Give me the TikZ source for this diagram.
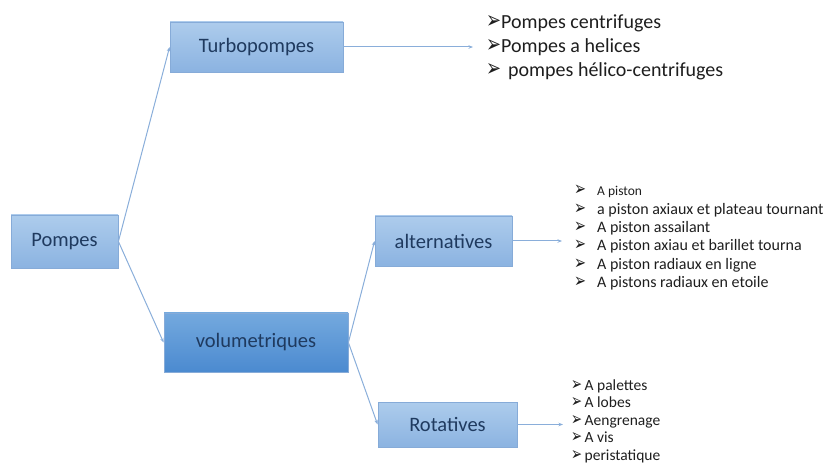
\documentclass[tikz,border=0pt]{standalone}
\usepackage{fontspec}
\usepackage{graphicx}
\setmainfont{Carlito}
\newfontfamily\dvfont{DejaVu Sans}
\usetikzlibrary{arrows.meta}
\definecolor{boxtop}{HTML}{ADCCEC}
\definecolor{boxbot}{HTML}{8BB3E1}
\definecolor{boxline}{HTML}{86ABD8}
\definecolor{voltop}{HTML}{74A9DE}
\definecolor{volbot}{HTML}{4B8AD0}
\definecolor{boxtext}{HTML}{1F3A5F}
\definecolor{linkcol}{HTML}{8AAEDA}
\definecolor{listtext}{HTML}{1E1E1E}
\newcommand{\bulA}{\resizebox{15pt}{13pt}{\dvfont ➢}}
\newcommand{\bulB}{\resizebox{12pt}{10.5pt}{\dvfont ➢}}
\newcommand{\bulC}{\resizebox{11pt}{10pt}{\dvfont ➢}}
\tikzset{
  catbox/.style={draw=boxline, line width=0.8pt, top color=boxtop, bottom color=boxbot,
    text=boxtext, font=\fontsize{20.5}{24}\selectfont, inner sep=0pt},
  volbox/.style={catbox, top color=voltop, bottom color=volbot},
  link/.style={draw=linkcol, line width=1pt, -{Stealth[length=4.5pt,width=3.5pt]}},
  itemA/.style={anchor=base west, inner sep=0pt, text=listtext, font=\fontsize{20}{23}\selectfont},
  itemB/.style={anchor=base west, inner sep=0pt, text=listtext, font=\fontsize{16}{18}\selectfont},
  itemC/.style={anchor=base west, inner sep=0pt, text=listtext, font=\fontsize{15.5}{18}\selectfont},
}
\begin{document}
\begin{tikzpicture}[x=1pt,y=-1pt]
\useasboundingbox (0,0) rectangle (830,470);
% boxes
\node[catbox, minimum width=107pt, minimum height=53pt] (pompes) at (64.5,241.5) {Pompes};
\node[catbox, minimum width=173pt, minimum height=50pt] (turbo) at (256.5,47) {Turbopompes};
\node[volbox, minimum width=184pt, minimum height=59pt] (vol) at (256,342.5) {volumetriques};
\node[catbox, minimum width=137pt, minimum height=50pt] (alt) at (443.5,241) {alternatives};
\node[catbox, minimum width=139pt, minimum height=45pt] (rot) at (447.5,424.5) {Rotatives};
% list 1
\node[itemA] (t1) at (486,29) {\makebox[15pt][l]{\bulA}Pompes centrifuges};
\node[itemA] (t2) at (486,53) {\makebox[15pt][l]{\bulA}Pompes a helices};
\node[itemA] (t3) at (486,77) {\makebox[22pt][l]{\bulA}pompes hélico-centrifuges};
% list 2
\node[itemB, font=\fontsize{13.5}{16}\selectfont] (a1) at (574,196) {\makebox[23pt][l]{\bulB}A piston};
\node[itemB] (a2) at (574,214.5) {\makebox[23pt][l]{\bulB}a piston axiaux et plateau tournant};
\node[itemB] (a3) at (574,233) {\makebox[23pt][l]{\bulB}A piston assailant};
\node[itemB] (a4) at (574,251) {\makebox[23pt][l]{\bulB}A piston axiau et barillet tourna};
\node[itemB] (a5) at (574,269.5) {\makebox[23pt][l]{\bulB}A piston radiaux en ligne};
\node[itemB] (a6) at (574,288) {\makebox[23pt][l]{\bulB}A pistons radiaux en etoile};
% list 3
\node[itemC] (r1) at (571,390) {\makebox[13.5pt][l]{\bulC}A palettes};
\node[itemC] (r2) at (571,407.5) {\makebox[13.5pt][l]{\bulC}A lobes};
\node[itemC] (r3) at (571,425) {\makebox[13.5pt][l]{\bulC}Aengrenage};
\node[itemC] (r4) at (571,442.5) {\makebox[13.5pt][l]{\bulC}A vis};
\node[itemC] (r5) at (571,460) {\makebox[13.5pt][l]{\bulC}peristatique};
% connectors
\draw[link] (pompes.east) -- (turbo.west);
\draw[link] (pompes.east) -- (vol.west);
\draw[link] (vol.east) -- (alt.west);
\draw[link] (vol.east) -- (rot.west);
\draw[link, shorten >=13pt] (turbo.east) -- (turbo.east -| t2.west);
\draw[link, shorten >=12pt] (alt.east) -- (alt.east -| a4.west);
\draw[link, shorten >=8pt] (rot.east) -- (rot.east -| r3.west);
\end{tikzpicture}
\end{document}
